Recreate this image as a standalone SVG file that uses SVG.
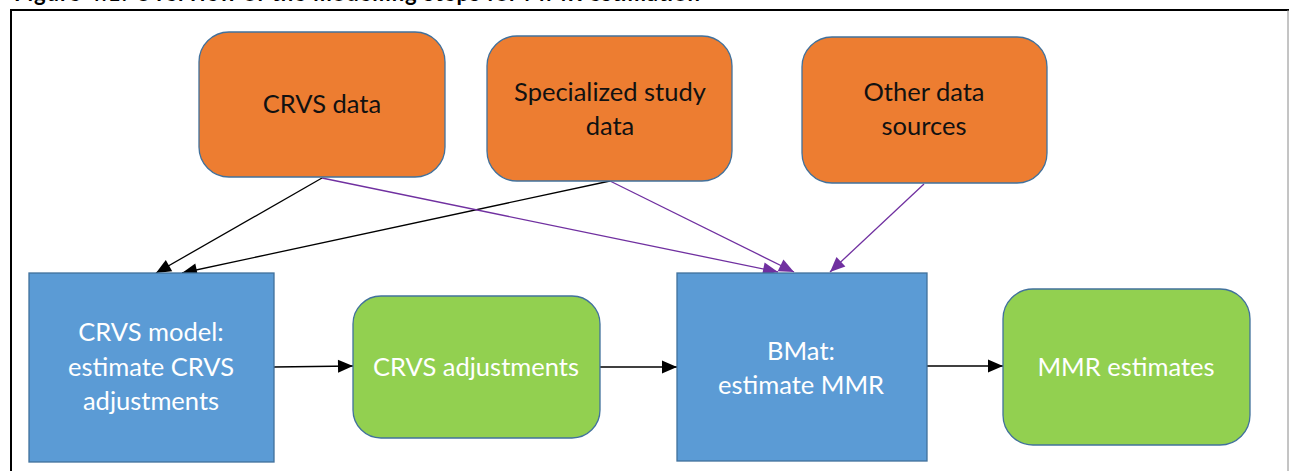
<svg xmlns="http://www.w3.org/2000/svg" width="1289" height="471" viewBox="0 0 1289 471">
<defs>
<style>
.frame{stroke:#000;stroke-width:2;fill:none}
.src rect{fill:#ED7D31;stroke:#41719C;stroke-width:1.3}
.mdl rect{fill:#5B9BD5;stroke:#41719C;stroke-width:1.3}
.out rect{fill:#92D050;stroke:#41719C;stroke-width:1.3}
text{font-family:Lato,"Open Sans","Liberation Sans",sans-serif;font-size:25.5px;text-anchor:middle}
.src text{fill:#111}
.mdl text,.out text{fill:#fff}
.title{font-weight:bold;font-size:22px;text-anchor:start;fill:#000}
.k{stroke:#000;stroke-width:1.3;fill:none}
.p{stroke:#7030A0;stroke-width:1.3;fill:none}
</style>
<marker id="ak" markerUnits="userSpaceOnUse" markerWidth="17" markerHeight="15" refX="16" refY="7.5" orient="auto"><path d="M1,1 L16,7.5 L1,14 Z" fill="#000"/></marker>
<marker id="ap" markerUnits="userSpaceOnUse" markerWidth="17" markerHeight="15" refX="16" refY="7.5" orient="auto"><path d="M1,1 L16,7.5 L1,14 Z" fill="#7030A0"/></marker>
</defs>
<rect width="1289" height="471" fill="#fff"/>
<text class="title" x="14" y="0.5" textLength="686">Figure 4.1: Overview of the modelling steps for MMR estimation</text>
<path class="frame" d="M11,471 V10 H1289"/>
<line x1="1288" y1="10" x2="1288" y2="471" stroke="#8a8a8a" stroke-width="1"/>

<g id="connectors">
<line class="k" x1="322" y1="178" x2="156" y2="273" marker-end="url(#ak)"/>
<line class="k" x1="610" y1="181" x2="182" y2="273" marker-end="url(#ak)"/>
<line class="p" x1="322" y1="178" x2="778" y2="272" marker-end="url(#ap)"/>
<line class="p" x1="610" y1="181" x2="794" y2="272" marker-end="url(#ap)"/>
<line class="p" x1="924" y1="184" x2="830" y2="272" marker-end="url(#ap)"/>
<line class="k" x1="274" y1="367" x2="353" y2="366" marker-end="url(#ak)"/>
<line class="k" x1="600" y1="367" x2="677" y2="367" marker-end="url(#ak)"/>
<line class="k" x1="927" y1="366" x2="1003" y2="366" marker-end="url(#ak)"/>
</g>

<g id="crvs-data" class="src">
<rect x="199" y="32" width="246" height="145" rx="30"/>
<text x="322" y="113">CRVS data</text>
</g>
<g id="specialized-study-data" class="src">
<rect x="487" y="36" width="245" height="145" rx="30"/>
<text x="610" y="101">Specialized study</text>
<text x="610" y="135">data</text>
</g>
<g id="other-data-sources" class="src">
<rect x="802" y="37" width="245" height="146" rx="30"/>
<text x="924" y="101">Other data</text>
<text x="924" y="135">sources</text>
</g>
<g id="crvs-model" class="mdl">
<rect x="29" y="273" width="245" height="189"/>
<text x="151" y="341">CRVS model:</text>
<text x="151" y="376">estimate CRVS</text>
<text x="151" y="410">adjustments</text>
</g>
<g id="crvs-adjustments" class="out">
<rect x="353" y="296" width="247" height="142" rx="28"/>
<text x="476" y="376">CRVS adjustments</text>
</g>
<g id="bmat" class="mdl">
<rect x="677" y="273" width="250" height="188"/>
<text x="801" y="360">BMat:</text>
<text x="801" y="394">estimate MMR</text>
</g>
<g id="mmr-estimates" class="out">
<rect x="1003" y="289" width="247" height="156" rx="30"/>
<text x="1126" y="376">MMR estimates</text>
</g>
</svg>
